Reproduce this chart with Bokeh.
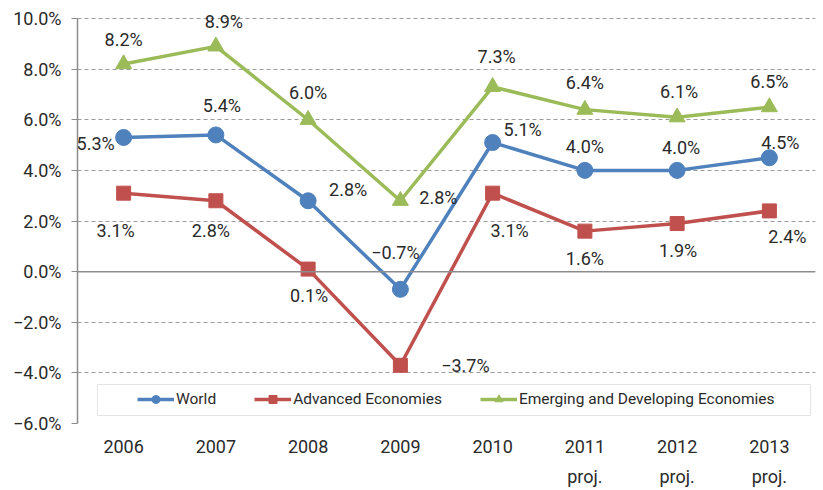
from bokeh.plotting import figure
from bokeh.models import (FixedTicker, LinearAxis, Span, BoxAnnotation, Legend,
                          LegendItem, ColumnDataSource, Range1d, LabelSet)
from bokeh.core.properties import value
from bokeh.embed import file_html
from bokeh.resources import INLINE

# ---------------- data ----------------
years = ["2006", "2007", "2008", "2009", "2010", "2011", "2012", "2013"]
year_sub = ["", "", "", "", "", "proj.", "proj.", "proj."]
world = [5.3, 5.4, 2.8, -0.7, 5.1, 4.0, 4.0, 4.5]
advanced = [3.1, 2.8, 0.1, -3.7, 3.1, 1.6, 1.9, 2.4]
emerging = [8.2, 8.9, 6.0, 2.8, 7.3, 6.4, 6.1, 6.5]
y_ticks = [-6, -4, -2, 0, 2, 4, 6, 8, 10]
y_tick_labels = ["−6.0%", "−4.0%", "−2.0%", "0.0%", "2.0%", "4.0%", "6.0%", "8.0%", "10.0%"]
series_names = ["World", "Advanced Economies", "Emerging and Developing Economies"]

# ---------------- styling ----------------
FONT = "Roboto"
TXT = "#2a2a2a"
colors = ["#4F81BD", "#C0504D", "#9BBB59"]
markers = ["circle", "square", "triangle"]
msizes = [16, 14, 16]
# label placements (screen px offsets: dx right, dy up)
label_offsets = [
    [(-28, -6), (6, 29), (40, 11), (-5, 37), (30, 13), (0, 24), (4, 23), (11, 15)],
    [(-8, -37), (-5, -30), (1, -26), (65, 0), (17, -37), (0, -27), (1, -27), (18, -26)],
    [(0, 25), (8, 25), (0, 27), (38, 3), (4, 30), (0, 27), (2, 26), (0, 26)],
]

xs = list(range(1, len(years) + 1))

p = figure(width=823, height=490, output_backend="svg", toolbar_location=None,
           x_range=Range1d(0.5, len(years) + 0.5), y_range=Range1d(-6, 10.5926),
           min_border_left=77, min_border_right=8, min_border_top=3,
           min_border_bottom=67)
p.outline_line_color = None
p.xgrid.grid_line_color = None
p.ygrid.ticker = FixedTicker(ticks=y_ticks)
p.ygrid.grid_line_color = "#9a9a9a"
p.ygrid.grid_line_dash = "4 3"
p.ygrid.grid_line_width = 1

# y axis
p.yaxis.ticker = FixedTicker(ticks=y_ticks)
p.yaxis.bounds = (-6, 10)
p.yaxis.major_label_overrides = {t: l for t, l in zip(y_ticks, y_tick_labels)}
p.yaxis.axis_line_color = "#8c8c8c"
p.yaxis.axis_line_width = 1.5
p.yaxis.major_tick_line_color = "#8c8c8c"
p.yaxis.major_tick_out = 6
p.yaxis.major_tick_in = 0
p.yaxis.minor_tick_line_color = None
p.yaxis.major_label_text_font = FONT
p.yaxis.major_label_text_font_size = "18px"
p.yaxis.major_label_text_color = TXT
p.yaxis.major_label_standoff = 10

# x axis (years)
p.xaxis.ticker = FixedTicker(ticks=xs)
p.xaxis.major_label_overrides = {x: y for x, y in zip(xs, years)}
p.xaxis.axis_line_color = None
p.xaxis.major_tick_line_color = None
p.xaxis.minor_tick_line_color = None
p.xaxis.major_label_text_font = FONT
p.xaxis.major_label_text_font_size = "18px"
p.xaxis.major_label_text_color = TXT
p.xaxis.major_label_standoff = 10

ax2 = LinearAxis(ticker=FixedTicker(ticks=xs),
                 major_label_overrides={x: s for x, s in zip(xs, year_sub)},
                 axis_line_color=None, major_tick_line_color=None,
                 minor_tick_line_color=None, major_label_text_font=FONT,
                 major_label_text_font_size="18px", major_label_text_color=TXT,
                 major_label_standoff=4)
p.add_layout(ax2, "below")

# zero line
p.add_layout(Span(location=0, dimension="width", line_color="#8c8c8c", line_width=1.5))

# legend box
p.add_layout(BoxAnnotation(left=0.717, right=8.446, top=-4.459, bottom=-5.684,
                           fill_color="white", fill_alpha=1, line_color="#a6a6a6",
                           line_width=1, level="underlay"))

items = []
for name, vals, col, mk, ms, offs in zip(series_names, [world, advanced, emerging],
                                           colors, markers, msizes, label_offsets):
    src = ColumnDataSource(dict(
        x=xs, y=vals,
        txt=[(f"{v:.1f}%").replace("-", "−") for v in vals],
        dx=[o[0] for o in offs], dy=[o[1] for o in offs]))
    ln = p.line("x", "y", source=src, line_color=col, line_width=3.5)
    sc = p.scatter("x", "y", source=src, marker=mk, size=ms, fill_color=col,
                   line_color=col)
    p.add_layout(LabelSet(x="x", y="y", text="txt", source=src, x_offset="dx",
                          y_offset="dy", text_align="center", text_baseline="middle",
                          text_font=value(FONT), text_font_size="18px",
                          text_color=TXT))
    items.append(LegendItem(label=name, renderers=[ln, sc]))

legend = Legend(items=items, orientation="horizontal", location=(60, 14),
                border_line_color=None, background_fill_alpha=0, padding=0,
                margin=0, spacing=38, glyph_width=37, glyph_height=20,
                label_standoff=2, label_text_font=FONT, label_text_font_size="15.5px",
                label_text_color=TXT)
p.add_layout(legend, "center")

open("out.html", "w").write(file_html(p, INLINE))
